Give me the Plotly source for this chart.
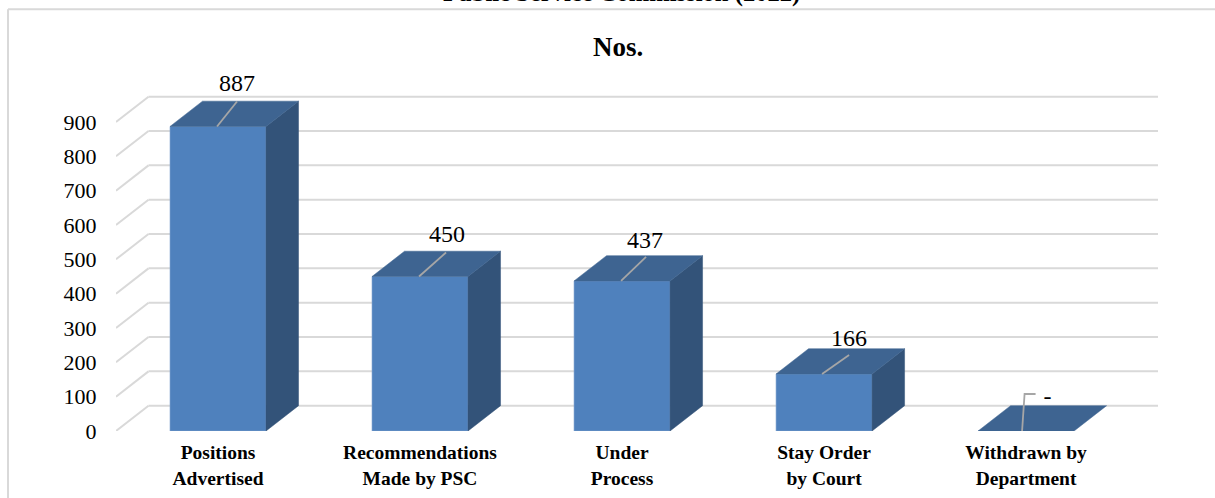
import plotly.graph_objects as go

categories = ["Positions<br>Advertised", "Recommendations<br>Made by PSC", "Under<br>Process",
              "Stay Order<br>by Court", "Withdrawn by<br>Department"]
values = [887, 450, 437, 166, 0]
value_labels = ["887", "450", "437", "166", "-"]
y_ticks = [0, 100, 200, 300, 400, 500, 600, 700, 800, 900]
title_cut = "Public Service Commission (2022)"
title_chart = "Nos."

W, H = 1215, 498
L, R, B = 116.0, 1158.0, 430.6
XR = [-0.505, 4.653]
uy = 334.6 / 975.0                  # px per value unit
YR = [0, 1200]
T = B - YR[1] * uy
ux = (R - L) / (XR[1] - XR[0])      # px per category
DX = 32.5 / ux
DY = 25.3 / uy
HALF = 48.0 / ux
SERIF = "Liberation Serif"
GRID = "#d9d9d9"

px = lambda p: p / ux
py = lambda p: p / uy
paper_x = lambda p: (p - L) / (R - L)
paper_y = lambda p: (B - p) / (B - T)

fig = go.Figure()

# floor and back-wall gridlines, behind the bars
for t in y_ticks:
    fig.add_shape(type="line", xref="x", yref="y", layer="below",
                  x0=XR[0], y0=t, x1=XR[0] + DX, y1=t + DY, line=dict(color=GRID, width=2))
    fig.add_shape(type="line", xref="x", yref="y", layer="below",
                  x0=XR[0] + DX, y0=t + DY, x1=XR[1], y1=t + DY, line=dict(color=GRID, width=2))

# front faces
fig.add_trace(go.Bar(x=list(range(len(values))), y=values, width=2 * HALF,
                     marker=dict(color="#4f81bd", line=dict(color="#7da1cd", width=0.6)),
                     showlegend=False))

for i, v in enumerate(values):
    # side face
    if v > 0:
        fig.add_trace(go.Scatter(
            x=[i + HALF, i + HALF + DX, i + HALF + DX, i + HALF, i + HALF],
            y=[0, DY, v + DY, v, 0], mode="lines", fill="toself", fillcolor="#335379",
            line=dict(color="#335379", width=0.5), hoverinfo="skip", showlegend=False))
    # top face
    fig.add_trace(go.Scatter(
        x=[i - HALF, i - HALF + DX, i + HALF + DX, i + HALF, i - HALF],
        y=[v, v + DY, v + DY, v, v], mode="lines", fill="toself", fillcolor="#3e6491",
        line=dict(color="#3e6491", width=0.5), hoverinfo="skip", showlegend=False))

# leader lines and labels: pixel offsets from each bar's front-top centre
leaders = [
    [(-1, 0), (19, -25)],
    [(-1, 0), (26, -24)],
    [(-1, 0), (24, -24)],
    [(-2, 0), (25, -19)],
    [(-4, 0), (-1.5, -37), (9.5, -37)],
]
label_offsets = [(19, -41), (27, -40), (23, -39), (25, -34), (21.5, -33)]
for i, v in enumerate(values):
    fig.add_trace(go.Scatter(
        x=[i + px(a) for a, _ in leaders[i]], y=[v - py(b) for _, b in leaders[i]],
        mode="lines", line=dict(color="#a6a6a6", width=1.8), hoverinfo="skip",
        showlegend=False))
    fig.add_trace(go.Scatter(
        x=[i + px(label_offsets[i][0])], y=[v - py(label_offsets[i][1])],
        mode="text", text=[value_labels[i]], textposition="middle center",
        textfont=dict(family=SERIF, size=24, color="black"), hoverinfo="skip",
        showlegend=False))

# chart frame
fig.add_shape(type="line", xref="paper", yref="paper", layer="below",
              x0=paper_x(8), x1=paper_x(8), y0=paper_y(498), y1=paper_y(9),
              line=dict(color="#d9d9d9", width=2))
fig.add_shape(type="line", xref="paper", yref="paper", layer="below",
              x0=paper_x(8), x1=paper_x(W), y0=paper_y(9), y1=paper_y(9),
              line=dict(color="#d9d9d9", width=2))

fig.update_layout(
    width=W, height=H, autosize=False,
    margin=dict(l=L, r=W - R, t=T, b=H - B, pad=0),
    paper_bgcolor="white", plot_bgcolor="white",
    barmode="overlay", showlegend=False,
    font=dict(family=SERIF, color="black"),
    xaxis=dict(range=XR, tickmode="array", tickvals=list(range(len(categories))),
               ticktext=["<b>%s</b>" % c for c in categories],
               tickfont=dict(family=SERIF, size=19.5, color="black"),
               showgrid=False, zeroline=False, showline=False, automargin=False,
               ticks="outside", ticklen=4, tickcolor="rgba(0,0,0,0)"),
    yaxis=dict(range=YR, tickmode="array", tickvals=y_ticks,
               tickfont=dict(family=SERIF, size=22, color="black"),
               showgrid=False, zeroline=False, showline=False, automargin=False,
               ticks="outside", ticklen=14, tickcolor="rgba(0,0,0,0)"),
    annotations=[
        dict(text="<b>%s</b>" % title_chart, xref="paper", yref="paper",
             x=paper_x(618), y=paper_y(47), xanchor="center", yanchor="middle",
             showarrow=False, font=dict(family=SERIF, size=27, color="black")),
        dict(text="<b>%s</b>" % title_cut, xref="paper", yref="paper",
             x=paper_x(621), y=paper_y(-7), xanchor="center", yanchor="middle",
             showarrow=False, font=dict(family=SERIF, size=24.6, color="black")),
    ],
)

fig.write_html("out.html", config={"displayModeBar": False},
               post_script="document.body.style.margin='0';")
